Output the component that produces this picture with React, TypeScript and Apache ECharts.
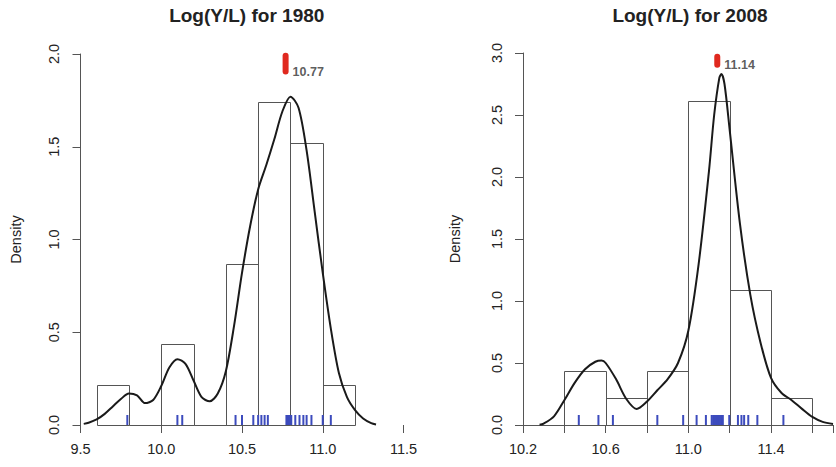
import React, { useEffect, useRef } from 'react';
import * as echarts from 'echarts';

const binWidth = 0.2;
const bins1980 = [9.6, 9.8, 10.0, 10.2, 10.4, 10.6, 10.8, 11.0];
const hist1980 = [0.217, 0, 0.435, 0, 0.87, 1.739, 1.522, 0.217];
const bins2008 = [10.4, 10.6, 10.8, 11.0, 11.2, 11.4];
const hist2008 = [0.435, 0.217, 0.435, 2.609, 1.087, 0.217];

const rug1980 = [9.79, 10.1, 10.13, 10.46, 10.5, 10.57, 10.6, 10.62, 10.64, 10.66, 10.775, 10.78, 10.785, 10.79, 10.795, 10.805, 10.83, 10.856, 10.88, 10.9, 10.93, 11.0, 11.05];
const rug2008 = [10.47, 10.565, 10.635, 10.85, 10.975, 11.04, 11.085, 11.113, 11.12, 11.127, 11.134, 11.14, 11.147, 11.153, 11.16, 11.167, 11.198, 11.24, 11.257, 11.27, 11.29, 11.334, 11.46];

const kdeX1980 = [9.52, 9.55, 9.6, 9.65, 9.7, 9.75, 9.8, 9.85, 9.9, 9.95, 10.0, 10.05, 10.1, 10.15, 10.2, 10.25, 10.3, 10.35, 10.4, 10.45, 10.5, 10.55, 10.6, 10.65, 10.7, 10.75, 10.8, 10.85, 10.9, 10.95, 11.0, 11.05, 11.1, 11.15, 11.2, 11.25, 11.3, 11.33];
const kdeY1980 = [0.006, 0.012, 0.03, 0.06, 0.1, 0.14, 0.17, 0.16, 0.118, 0.135, 0.21, 0.31, 0.355, 0.33, 0.24, 0.15, 0.128, 0.17, 0.29, 0.53, 0.82, 1.07, 1.27, 1.4, 1.54, 1.69, 1.77, 1.71, 1.48, 1.15, 0.82, 0.52, 0.28, 0.15, 0.08, 0.035, 0.01, 0.003];

const kdeX2008 = [10.28, 10.3, 10.35, 10.4, 10.45, 10.5, 10.55, 10.58, 10.6, 10.65, 10.7, 10.75, 10.8, 10.85, 10.9, 10.95, 11.0, 11.05, 11.1, 11.125, 11.15, 11.16, 11.175, 11.2, 11.25, 11.3, 11.35, 11.4, 11.45, 11.5, 11.55, 11.6, 11.65, 11.7];
const kdeY2008 = [0.003, 0.012, 0.07, 0.2, 0.34, 0.45, 0.51, 0.52, 0.5, 0.37, 0.21, 0.13, 0.19, 0.28, 0.37, 0.5, 0.76, 1.3, 2.05, 2.5, 2.8, 2.83, 2.75, 2.38, 1.62, 1.05, 0.66, 0.38, 0.26, 0.2, 0.13, 0.065, 0.025, 0.008];

const mean1980 = 10.77;
const mean2008 = 11.14;
const markSpan1980 = [1.905, 1.99];
const markSpan2008 = [2.905, 2.97];

const xLabels1980 = ['9.5', '10.0', '10.5', '11.0', '11.5'];
const xLabels2008 = ['10.2', '10.6', '11.0', '11.4'];

const titles = ['Log(Y/L) for 1980', 'Log(Y/L) for 2008'];

const FONT = '"Liberation Sans", Arial, Helvetica, sans-serif';
const AXIS_COLOR = '#555';
const TEXT_COLOR = '#222';
const RUG_COLOR = '#3c4bbd';
const RED = '#e0291f';

function histData(bins: number[], h: number[]) {
  return bins.map((b, i) => [b, +(b + binWidth).toFixed(2), h[i]]);
}

const histRender = (params: any, api: any) => {
  const p0 = api.coord([api.value(0), 0]);
  const p1 = api.coord([api.value(1), api.value(2)]);
  return {
    type: 'rect',
    shape: { x: Math.round(p0[0]) + 0.5, y: Math.round(p1[1]) + 0.5, width: Math.round(p1[0]) - Math.round(p0[0]), height: Math.round(p0[1]) - Math.round(p1[1]) },
    style: { fill: 'none', stroke: AXIS_COLOR, lineWidth: 1 },
  };
};

const rugRender = (params: any, api: any) => {
  const p = api.coord([api.value(0), 0]);
  return {
    type: 'line',
    shape: { x1: p[0], y1: p[1], x2: p[0], y2: p[1] - 10 },
    style: { stroke: RUG_COLOR, lineWidth: 2 },
  };
};

function xAxisCfg(idx: number, min: number, max: number, interval: number, labels: string[], showLine: boolean) {
  return {
    type: 'value',
    gridIndex: idx,
    min,
    max,
    interval,
    splitLine: { show: false },
    axisLine: { show: showLine, onZero: false, lineStyle: { color: AXIS_COLOR, width: 1 } },
    axisTick: { show: true, length: 8, lineStyle: { color: AXIS_COLOR, width: 1 } },
    axisLabel: {
      fontSize: 14.5,
      fontFamily: FONT,
      color: TEXT_COLOR,
      margin: 16,
      showMaxLabel: true,
      showMinLabel: true,
      formatter: (v: number) => {
        const s = (Math.round(v * 10) / 10).toFixed(1);
        return labels.indexOf(s) >= 0 ? s : '';
      },
    },
  };
}

function yAxisCfg(idx: number, max: number, nameGap: number) {
  return {
    type: 'value',
    gridIndex: idx,
    min: 0,
    max,
    interval: 0.5,
    name: 'Density',
    nameLocation: 'middle',
    nameGap,
    nameRotate: 90,
    nameTextStyle: { fontSize: 14.5, fontFamily: FONT, color: TEXT_COLOR },
    splitLine: { show: false },
    axisLine: { show: true, lineStyle: { color: AXIS_COLOR, width: 1 } },
    axisTick: { show: true, length: 8, lineStyle: { color: AXIS_COLOR, width: 1 } },
    axisLabel: {
      rotate: 90,
      fontSize: 14.5,
      fontFamily: FONT,
      color: TEXT_COLOR,
      margin: 19,
      formatter: (v: number) => v.toFixed(1),
    },
  };
}

export default function App() {
  const ref = useRef<HTMLDivElement>(null);
  useEffect(() => {
    if (!ref.current) return;
    const chart = echarts.init(ref.current, undefined, { renderer: 'svg' });
    const labelStyle = { fontSize: 12.5, fontWeight: 'bold' as const, fontFamily: FONT, color: '#333' };
    const option: any = {
      animation: false,
      backgroundColor: '#ffffff',
      title: [
        { text: titles[0], left: 241.75, top: 1, textAlign: 'center', textStyle: { fontSize: 19, fontWeight: 'bold', fontFamily: FONT, color: TEXT_COLOR } },
        { text: titles[1], left: 685, top: 1, textAlign: 'center', textStyle: { fontSize: 19, fontWeight: 'bold', fontFamily: FONT, color: TEXT_COLOR } },
      ],
      grid: [
        { left: 80.5, width: 323, top: 54, bottom: 42 },
        { left: 523, width: 323.7, top: 53, bottom: 42 },
      ],
      xAxis: [
        xAxisCfg(0, 9.5, 11.5, 0.5, xLabels1980, false),
        xAxisCfg(1, 10.2, 11.7, 0.2, xLabels2008, true),
      ],
      yAxis: [yAxisCfg(0, 2.0, 57), yAxisCfg(1, 3.0, 61)],
      series: [
        {
          type: 'custom', xAxisIndex: 0, yAxisIndex: 0, renderItem: histRender,
          data: histData(bins1980, hist1980), encode: { x: [0, 1], y: 2 }, silent: true,
        },
        {
          type: 'custom', xAxisIndex: 1, yAxisIndex: 1, renderItem: histRender,
          data: histData(bins2008, hist2008), encode: { x: [0, 1], y: 2 }, silent: true,
        },
        {
          type: 'line', xAxisIndex: 0, yAxisIndex: 0, smooth: 0.3, symbol: 'none',
          lineStyle: { color: '#1a1a1a', width: 2 },
          data: kdeX1980.map((x, i) => [x, kdeY1980[i]]),
        },
        {
          type: 'line', xAxisIndex: 1, yAxisIndex: 1, smooth: 0.3, symbol: 'none', clip: true,
          lineStyle: { color: '#1a1a1a', width: 2 },
          data: kdeX2008.map((x, i) => [x, kdeY2008[i]]),
        },
        {
          type: 'custom', xAxisIndex: 0, yAxisIndex: 0, renderItem: rugRender,
          data: rug1980.map((v) => [v, 0]), silent: true,
        },
        {
          type: 'custom', xAxisIndex: 1, yAxisIndex: 1, renderItem: rugRender,
          data: rug2008.map((v) => [v, 0]), silent: true,
        },
        {
          type: 'line', xAxisIndex: 0, yAxisIndex: 0, symbol: 'none', clip: false,
          lineStyle: { color: RED, width: 6, cap: 'round' },
          data: [[mean1980, markSpan1980[0]], [mean1980, markSpan1980[1]]],
        },
        {
          type: 'line', xAxisIndex: 1, yAxisIndex: 1, symbol: 'none', clip: false,
          lineStyle: { color: RED, width: 6, cap: 'round' },
          data: [[mean2008, markSpan2008[0]], [mean2008, markSpan2008[1]]],
        },
        {
          type: 'scatter', xAxisIndex: 0, yAxisIndex: 0, symbolSize: 0, clip: false,
          label: { show: true, position: 'right', distance: 7, formatter: mean1980.toFixed(2), ...labelStyle },
          data: [[mean1980, markSpan1980[0]]],
        },
        {
          type: 'scatter', xAxisIndex: 1, yAxisIndex: 1, symbolSize: 0, clip: false,
          label: { show: true, position: 'right', distance: 7, formatter: mean2008.toFixed(2), ...labelStyle },
          data: [[mean2008, markSpan2008[0]]],
        },
      ],
    };
    chart.setOption(option);
    return () => chart.dispose();
  }, []);
  return <div ref={ref} style={{ position: 'absolute', left: 0, top: 0, width: 836, height: 467 }} />;
}
